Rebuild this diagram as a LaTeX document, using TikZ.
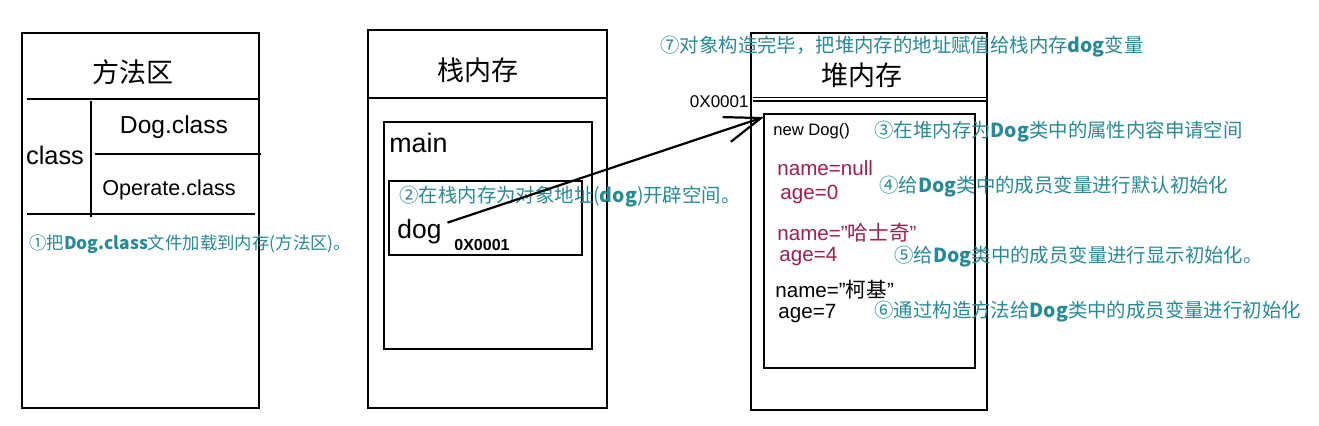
\documentclass[tikz,border=0pt]{standalone}
\usepackage{fontspec}
\setmainfont{Liberation Sans}
\newfontfamily\cjk{Noto Sans CJK SC}
\usetikzlibrary{arrows.meta}
\definecolor{noteteal}{RGB}{40,138,148}
\definecolor{fieldred}{RGB}{160,32,72}
\begin{document}
\begin{tikzpicture}[x=0.5pt,y=-0.5pt,
  frame/.style={draw=black,line width=1.1pt},
  txt/.style={inner sep=0pt,anchor=west},
  boxtitle/.style={inner sep=0pt,font=\cjk\fontsize{13.5}{15}\selectfont},
  note/.style={txt,text=noteteal,font=\cjk\fontsize{9.7}{11}\selectfont},
  field/.style={txt,text=fieldred,font=\fontsize{10.3}{12}\selectfont},
  plainfield/.style={txt,font=\fontsize{10.3}{12}\selectfont},
  ptr/.style={line width=1.1pt,-{Straight Barb[length=18pt,width=13pt]}}]
    \newcommand{\zh}[1]{{\cjk #1}}
    \newcommand{\q}{\symbol{34}}
    \useasboundingbox[fill=white] (0,0) rectangle (1319,425);

    % method area
    \draw[frame] (22,33) rectangle (259,408);
    \draw[frame] (27,99) -- (259,99);
    \draw[frame] (91,101) -- (91,217);
    \draw[frame] (95,154) -- (261,154);
    \draw[frame] (27,214) -- (255,214);
    \node[boxtitle] (methodtitle) at (133,72) {方法区};
    \node[inner sep=0pt,font=\fontsize{12.7}{14}\selectfont] (classlbl) at (55,155) {class};
    \node[inner sep=0pt,font=\fontsize{12.3}{14}\selectfont] (dogclass) at (174,127) {Dog.class};
    \node[inner sep=0pt,font=\fontsize{10.8}{13}\selectfont] (opclass) at (169,190) {Operate.class};
    \node[note,font=\cjk\fontsize{8.7}{10}\selectfont] (note1) at (29,244) {①把\textbf{Dog.class}文件加载到内存(方法区)。};

    % stack
    \draw[frame] (368,30) rectangle (607,408);
    \draw[frame] (368,98) -- (607,98);
    \node[boxtitle] (stacktitle) at (478,70) {栈内存};
    \draw[frame] (384,122) rectangle (592,349);
    \node[txt,font=\fontsize{13.4}{15}\selectfont] (mainlbl) at (389,143) {main};
    \draw[frame] (389,181) rectangle (582,255);
    \node[note] (note2) at (399,197) {②在栈内存为对象地址(\textbf{dog})开辟空间。};
    \node[txt,font=\fontsize{13.2}{15}\selectfont] (dogvar) at (397,232) {dog};
    \node[txt,font=\bfseries\fontsize{8}{10}\selectfont] (stackaddr) at (454,245) {0X0001};

    % heap
    \draw[frame] (751,33) rectangle (987,410);
    \draw[line width=0.7pt] (753,97.5) -- (987,97.5);
    \draw[line width=0.7pt] (753,101) -- (987,101);
    \node[boxtitle] (heaptitle) at (862,75) {堆内存};
    \draw[frame] (764,114) rectangle (975,368);
    \coordinate (heapobj) at (764,117);
    \node[inner sep=0pt,anchor=east,font=\fontsize{8.5}{10}\selectfont] (heapaddr) at (749,102) {0X0001};
    \node[txt,font=\fontsize{8.3}{10}\selectfont] (newdog) at (773,131) {new Dog()};
    \node[field] (name0) at (777,168) {name=null};
    \node[field] (age0) at (780,194) {age=0};
    \node[field] (name1) at (777,233) {name=\q\zh{哈士奇}\q};
    \node[field] (age1) at (779,257) {age=4};
    \node[plainfield] (name2) at (775,290) {name=\q\zh{柯基}\q};
    \node[plainfield] (age2) at (778,314) {age=7};

    \node[note] (note7) at (660,47) {⑦对象构造完毕，把堆内存的地址赋值给栈内存\textbf{dog}变量};
    \node[note] (note3) at (874,132) {③在堆内存为\textbf{Dog}类中的属性内容申请空间};
    \node[note] (note4) at (879,187) {④给\textbf{Dog}类中的成员变量进行默认初始化};
    \node[note] (note5) at (894,257) {⑤给\textbf{Dog}类中的成员变量进行显示初始化。};
    \node[note] (note6) at (874,312) {⑥通过构造方法给\textbf{Dog}类中的成员变量进行初始化};

    \draw[ptr,shorten <=3pt] (dogvar) -- (heapobj);
\end{tikzpicture}
\end{document}
